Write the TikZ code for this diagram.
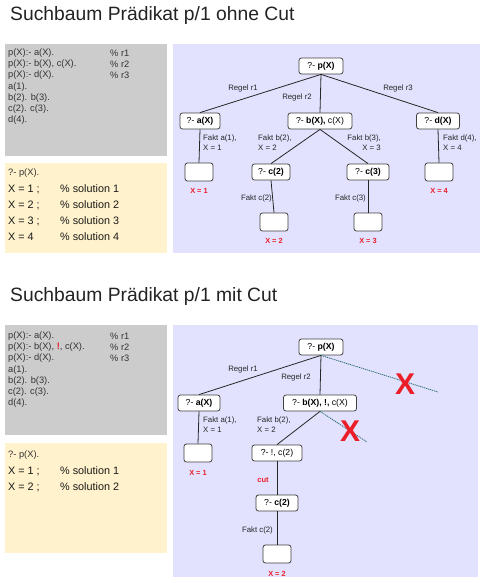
\documentclass[tikz,border=0pt]{standalone}
\usepackage{fontspec}
\setmainfont{Liberation Sans}
\definecolor{panelgray}{RGB}{204,204,204}
\definecolor{panelyellow}{RGB}{255,242,204}
\definecolor{panelblue}{RGB}{226,226,255}
\definecolor{xred}{RGB}{235,30,40}
\definecolor{cutteal}{RGB}{40,105,110}
\definecolor{titlegray}{RGB}{35,35,35}
\begin{document}
\begin{tikzpicture}[x=1pt,y=-1pt,
  title/.style={anchor=west,inner sep=0pt,text=titlegray,font=\fontsize{19.3}{21}\selectfont},
  code/.style={anchor=west,inner sep=0pt,text=black!80,font=\fontsize{9.3}{11}\selectfont},
  ycode/.style={anchor=west,inner sep=0pt,text=black!90,font=\fontsize{10.8}{12}\selectfont},
  goal/.style={draw=black!75,rounded corners=2.5pt,fill=white,line width=0.8pt,minimum height=16pt,inner sep=1.5pt,font=\fontsize{8.7}{10}\selectfont},
  leaf/.style={goal,minimum width=28pt,minimum height=18pt},
  lbl/.style={font=\fontsize{7.8}{10}\selectfont,inner sep=0pt,text=black!85},
  sol/.style={font=\bfseries\fontsize{7.4}{8}\selectfont,text=xred,inner sep=0pt},
  edge/.style={line width=0.8pt,black!85},
  pruned/.style={line width=0.8pt,cutteal,dash pattern=on 1.2pt off 0.8pt},
  bigx/.style={font=\bfseries\fontsize{30}{30}\selectfont,text=xred,inner sep=0pt}]
\useasboundingbox (0,0) rectangle (483,583);
\fill[white] (0,0) rectangle (483,583);

% ---------------- part 1 ----------------
\node[title] (t1) at (10,16) {Suchbaum Prädikat p/1 ohne Cut};
\fill[panelgray] (5,44) rectangle (167,156);
\fill[panelyellow] (5,163) rectangle (167,253);
\fill[panelblue] (173,44) rectangle (480,253);

\node[code] (g1a) at (8,53) {p(X):- a(X).};
\node[code] (g1b) at (8,64) {p(X):- b(X), c(X).};
\node[code] (g1c) at (8,75) {p(X):- d(X).};
\node[code] (g1d) at (8,87) {a(1).};
\node[code] (g1e) at (8,98) {b(2). b(3).};
\node[code] (g1f) at (8,109) {c(2). c(3).};
\node[code] (g1g) at (8,120) {d(4).};
\node[code] (r1a) at (110,53) {\% r1};
\node[code] (r1b) at (110,64) {\% r2};
\node[code] (r1c) at (110,75) {\% r3};

\node[code] (q1) at (8,173) {?- p(X).};
\node[ycode] (s1a) at (8,189) {X = 1 ;};
\node[ycode] (s1b) at (8,205) {X = 2 ;};
\node[ycode] (s1c) at (8,221) {X = 3 ;};
\node[ycode] (s1d) at (8,237) {X = 4};
\node[ycode] (c1a) at (60,189) {\% solution 1};
\node[ycode] (c1b) at (60,205) {\% solution 2};
\node[ycode] (c1c) at (60,221) {\% solution 3};
\node[ycode] (c1d) at (60,237) {\% solution 4};

\node[goal,minimum width=44pt] (p) at (321,66) {?- \textbf{p(X)}};
\node[goal,minimum width=40pt] (a) at (200,121) {?- \textbf{a(X)}};
\node[goal,minimum width=64pt] (bc) at (320,121) {?- \textbf{b(X),} c(X)};
\node[goal,minimum width=43pt] (d) at (438,121) {?- \textbf{d(X)}};
\node[leaf] (la) at (199,172) {};
\node[goal,minimum width=38pt] (c2) at (271,172) {?- \textbf{c(2)}};
\node[goal,minimum width=42pt] (c3) at (368,172) {?- \textbf{c(3)}};
\node[leaf] (ld) at (439,172) {};
\node[leaf] (lc2) at (274,222) {};
\node[leaf] (lc3) at (368,222) {};

\draw[edge] (p.south) -- (a.north);
\draw[edge] (p.south) -- (bc.north);
\draw[edge] (p.south) -- (d.north);
\draw[edge] (a.south) -- (la.north);
\draw[edge] (bc.south) -- (c2.north);
\draw[edge] (bc.south) -- (c3.north);
\draw[edge] (d.south) -- (ld.north);
\draw[edge] (c2.south) -- (lc2.north);
\draw[edge] (c3.south) -- (lc3.north);

\node[lbl] (e1) at (243,88) {Regel r1};
\node[lbl] (e2) at (297,97) {Regel r2};
\node[lbl] (e3) at (398,88) {Regel r3};
\node[lbl,anchor=west,align=left] (fa) at (203,143) {Fakt a(1),\\X = 1};
\node[lbl,anchor=west,align=left] (fb2) at (258,143) {Fakt b(2),\\X = 2};
\node[lbl,anchor=east,align=right] (fb3) at (381,143) {Fakt b(3),\\X = 3};
\node[lbl,anchor=west,align=left] (fd) at (443,143) {Fakt d(4),\\X = 4};
\node[lbl,anchor=east] (fc2) at (272,198) {Fakt c(2)};
\node[lbl,anchor=east] (fc3) at (366,198) {Fakt c(3)};
\node[sol] (x1) at (199,191) {X = 1};
\node[sol] (x4) at (439,191) {X = 4};
\node[sol] (x2) at (274,241) {X = 2};
\node[sol] (x3) at (368,241) {X = 3};

% ---------------- part 2 ----------------
\node[title] (t2) at (10,297) {Suchbaum Prädikat p/1 mit Cut};
\fill[panelgray] (5,325) rectangle (167,435);
\fill[panelyellow] (5,443) rectangle (167,553);
\fill[panelblue] (173,325) rectangle (478,577);

\node[code] (h1a) at (8,336) {p(X):- a(X).};
\node[code] (h1b) at (8,347) {p(X):- b(X), {\color{xred}\textbf{!}}, c(X).};
\node[code] (h1c) at (8,358) {p(X):- d(X).};
\node[code] (h1d) at (8,370) {a(1).};
\node[code] (h1e) at (8,381) {b(2). b(3).};
\node[code] (h1f) at (8,392) {c(2). c(3).};
\node[code] (h1g) at (8,403) {d(4).};
\node[code] (r2a) at (110,336) {\% r1};
\node[code] (r2b) at (110,347) {\% r2};
\node[code] (r2c) at (110,358) {\% r3};

\node[code] (q2) at (8,455) {?- p(X).};
\node[ycode] (s2a) at (8,471) {X = 1 ;};
\node[ycode] (s2b) at (8,487) {X = 2 ;};
\node[ycode] (c2a) at (60,471) {\% solution 1};
\node[ycode] (c2b) at (60,487) {\% solution 2};

\node[goal,minimum width=44pt] (P) at (321,347) {?- \textbf{p(X)}};
\node[goal,minimum width=42pt] (A) at (199,403) {?- \textbf{a(X)}};
\node[goal,minimum width=73pt] (B) at (320,403) {?- \textbf{b(X), !,} c(X)};
\node[leaf] (LA) at (198,453) {};
\node[goal,minimum width=50pt] (CC) at (277,453) {?- !, c(2)};
\node[goal,minimum width=42pt] (C2) at (277,503) {?- \textbf{c(2)}};
\node[leaf] (LC) at (277,554) {};
\coordinate (P3) at (438,392);
\coordinate (B3) at (367,442);

\draw[edge] (P.south) -- (A.north);
\draw[edge] (P.south) -- (B.north);
\draw[pruned] (P.south) -- (P3);
\draw[edge] (A.south) -- (LA.north);
\draw[edge] (B.south) -- (CC.north);
\draw[pruned] (B.south) -- (B3);
\draw[edge] (CC.south) -- (C2.north);
\draw[edge] (C2.south) -- (LC.north);

\node[lbl] (E1) at (243,369) {Regel r1};
\node[lbl] (E2) at (296,377) {Regel r2};
\node[lbl,anchor=west,align=left] (FA) at (203,425) {Fakt a(1),\\X = 1};
\node[lbl,anchor=west,align=left] (FB) at (257,425) {Fakt b(2),\\X = 2};
\node[font=\bfseries\fontsize{7.6}{8}\selectfont,text=xred,inner sep=0pt] (cut) at (263,480) {cut};
\node[lbl,anchor=east] (FC) at (273,530) {Fakt c(2)};
\node[sol] (X1) at (198,473) {X = 1};
\node[sol] (X2) at (277,574) {X = 2};
\node[bigx] (bx1) at (405,384) {X};
\node[bigx] (bx2) at (350,431) {X};
\end{tikzpicture}
\end{document}
